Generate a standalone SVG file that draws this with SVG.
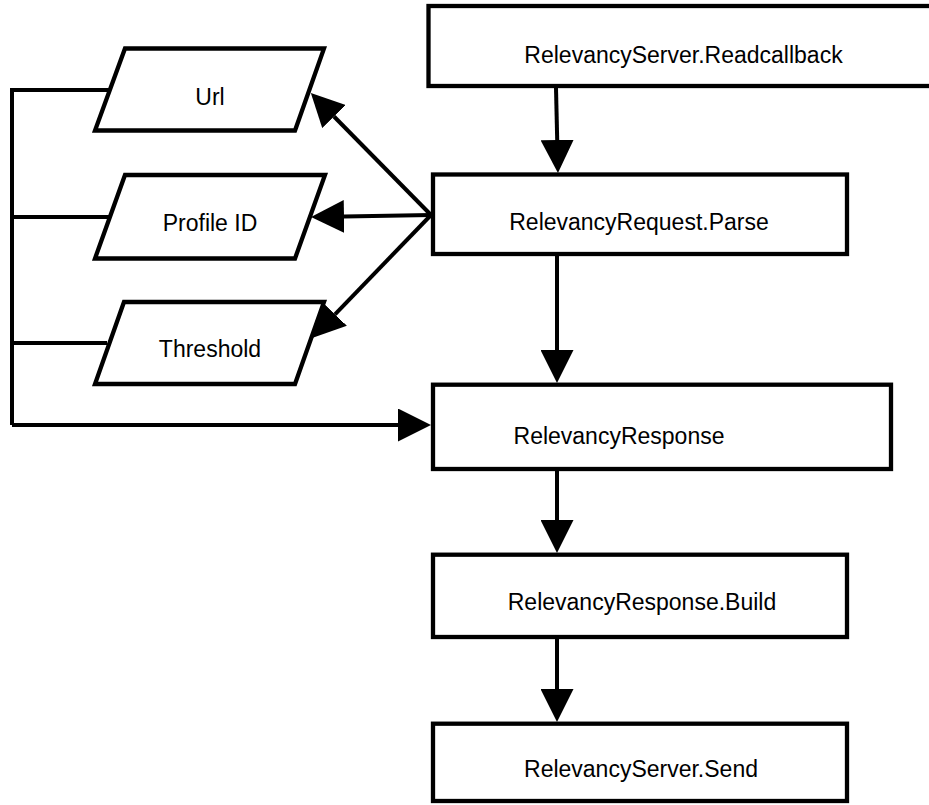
<svg xmlns="http://www.w3.org/2000/svg" width="929" height="805" viewBox="0 0 929 805">
  <style>
    .box { fill: #ffffff; stroke: #000000; stroke-width: 4.3; }
    .lbl { font-family: "Liberation Sans", Arial, sans-serif; font-size: 23px; fill: #000000; text-anchor: middle; }
    .edge { fill: none; stroke: #000000; stroke-width: 4; }
    .arrow { fill: none; stroke: #000000; stroke-width: 4; marker-end: url(#head); }
  </style>
  <defs>
    <marker id="head" viewBox="0 0 33 33" markerWidth="33" markerHeight="33" markerUnits="userSpaceOnUse" refX="0" refY="16.5" orient="auto">
      <path d="M0,0 L33,16.5 L0,33 z" fill="#000000"/>
    </marker>
  </defs>
  <rect width="929" height="805" fill="#ffffff"/>

  <!-- connectors -->
  <g id="connectors">
    <!-- input bus on the left feeding RelevancyResponse -->
    <path class="edge" d="M110,90 H12 V425"/>
    <path class="edge" d="M12,217 H110"/>
    <path class="edge" d="M12,343 H107"/>
    <path class="arrow" d="M12,425 H398"/>
    <!-- parse fan-out to the parameters -->
    <path class="arrow" d="M431,215 L334,116.5"/>
    <path class="arrow" d="M431,215 L344,216.5"/>
    <path class="arrow" d="M431,215 L335,314.3"/>
    <!-- main vertical flow -->
    <path class="arrow" d="M556,88 L557.2,140"/>
    <path class="arrow" d="M557,256 V350"/>
    <path class="arrow" d="M557,469 V520"/>
    <path class="arrow" d="M557,637 V689"/>
  </g>

  <g id="readcallback">
    <rect class="box" x="428.5" y="6" width="510" height="80"/>
    <text class="lbl" x="683.5" y="63">RelevancyServer.Readcallback</text>
  </g>

  <g id="parse">
    <rect class="box" x="433" y="174.5" width="414" height="79.5"/>
    <text class="lbl" x="639" y="230">RelevancyRequest.Parse</text>
  </g>

  <g id="url">
    <polygon class="box" points="125,48.5 324,48.5 295,130.5 95,130.5"/>
    <text class="lbl" x="210" y="105">Url</text>
  </g>

  <g id="profile-id">
    <polygon class="box" points="125,175 325,175 295,258.5 95,258.5"/>
    <text class="lbl" x="210" y="231">Profile ID</text>
  </g>

  <g id="threshold">
    <polygon class="box" points="124,302 324,302 295,384 95,384"/>
    <text class="lbl" x="210" y="357">Threshold</text>
  </g>

  <g id="response">
    <rect class="box" x="433" y="384.7" width="458" height="84.3"/>
    <text class="lbl" x="619" y="444">RelevancyResponse</text>
  </g>

  <g id="build">
    <rect class="box" x="433" y="554.7" width="414" height="82.3"/>
    <text class="lbl" x="642" y="610">RelevancyResponse.Build</text>
  </g>

  <g id="send">
    <rect class="box" x="433" y="723.7" width="414" height="77.3"/>
    <text class="lbl" x="641" y="777">RelevancyServer.Send</text>
  </g>
</svg>
